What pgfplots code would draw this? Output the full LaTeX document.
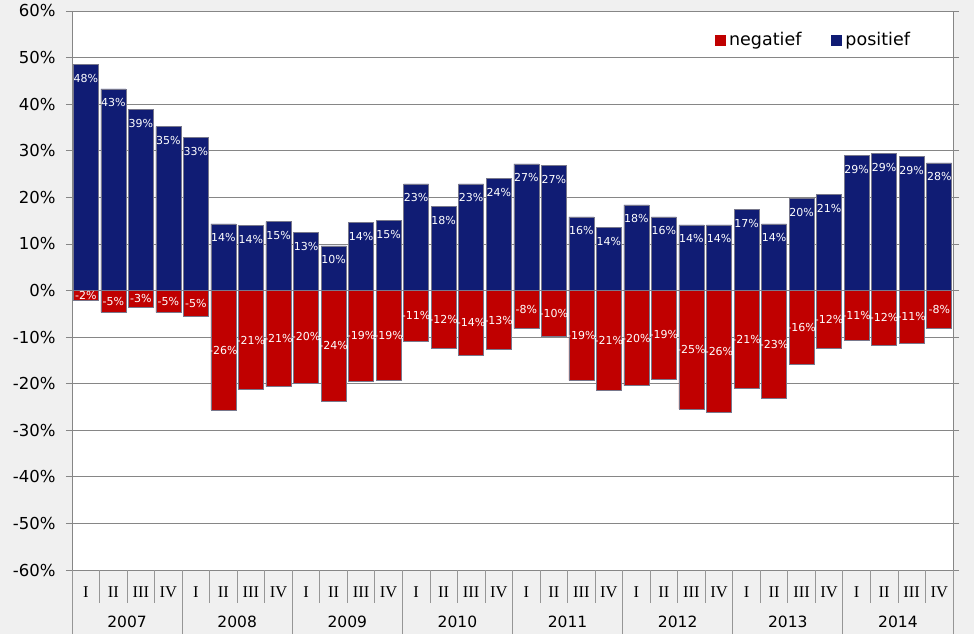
\documentclass[border=0pt]{standalone}
\usepackage{pgfplots}
\pgfplotsset{compat=1.18}
\usepackage{pgfplotstable}
\usepackage{fontspec}
\setmainfont{DejaVu Sans}
\newfontfamily\serifq{Liberation Serif}
\definecolor{bgc}{RGB}{240,240,240}
\definecolor{gridc}{RGB}{134,134,134}
\definecolor{sepc}{RGB}{150,150,150}
\definecolor{posc}{RGB}{16,28,116}
\definecolor{negc}{RGB}{192,0,0}
\definecolor{edgec}{RGB}{120,120,140}

\pgfplotstableread{
x pos neg pl nl
1 48.5 -2.1 48 -2
2 43.3 -4.7 43 -5
3 38.9 -3.5 39 -3
4 35.2 -4.7 35 -5
5 32.8 -5.5 33 -5
6 14.3 -25.6 14 -26
7 13.9 -21.3 14 -21
8 14.8 -20.6 15 -21
9 12.4 -19.9 13 -20
10 9.6 -23.7 10 -24
11 14.6 -19.4 14 -19
12 15.0 -19.2 15 -19
13 22.9 -10.8 23 -11
14 18.0 -12.4 18 -12
15 22.9 -13.9 23 -14
16 24.0 -12.7 24 -13
17 27.2 -8.2 27 -8
18 26.9 -9.9 27 -10
19 15.8 -19.3 16 -19
20 13.5 -21.4 14 -21
21 18.4 -20.4 18 -20
22 15.8 -19.1 16 -19
23 14.1 -25.4 14 -25
24 14.1 -26.2 14 -26
25 17.4 -21.0 17 -21
26 14.3 -23.2 14 -23
27 19.8 -15.8 20 -16
28 20.6 -12.4 21 -12
29 29.0 -10.7 29 -11
30 29.4 -11.8 29 -12
31 28.8 -11.3 29 -11
32 27.4 -8.1 28 -8
}\data

\begin{document}
\begin{tikzpicture}
\fill[bgc] (0,0) rectangle (974pt,634pt);
\useasboundingbox (0,0) rectangle (974pt,634pt);
\begin{axis}[
  at={(72pt,64pt)}, anchor=south west,
  scale only axis, width=881pt, height=559pt,
  axis background/.style={fill=white},
  xmin=0.5, xmax=32.5, ymin=-60, ymax=60,
  clip=false,
  ybar, bar width=25pt,
  axis line style={draw=gridc, line width=0.8pt},
  ymajorgrids, grid style={draw=gridc, line width=0.8pt},
  ytick={-60,-50,...,60},
  yticklabels={-60\%,-50\%,-40\%,-30\%,-20\%,-10\%,0\%,10\%,20\%,30\%,40\%,50\%,60\%},
  yticklabel style={font=\fontsize{16.5}{16.5}\selectfont, xshift=-7pt},
  tick align=outside, major tick length=6pt,
  ytick style={draw=gridc, line width=0.8pt},
  xtick={1,...,32},
  xticklabels={I,II,III,IV,I,II,III,IV,I,II,III,IV,I,II,III,IV,I,II,III,IV,I,II,III,IV,I,II,III,IV,I,II,III,IV},
  xtick style={draw=none},
  xticklabel style={font=\serifq\fontsize{16.5}{16.5}\selectfont, anchor=center, yshift=-16pt},
  legend style={draw=none, fill=none, at={(0.957,0.948)}, anchor=east,
    legend columns=2, font=\fontsize{17.5}{17.5}\selectfont,
    /tikz/every even column/.append style={column sep=28pt},
    /tikz/every odd column/.append style={column sep=1pt}},
  legend image code/.code={\fill[#1,draw=none] (0pt,-5.5pt) rectangle (11pt,5.5pt);},
  /pgf/number format/assume math mode=true,
]
\addplot[fill=negc, draw=edgec, line width=0.5pt, bar shift=0pt,
  point meta=explicit symbolic,
  nodes near coords={\pgfplotspointmeta\%},
  nodes near coords align={anchor=center},
  visualization depends on={\thisrow{neg} \as \nv},
  every node near coord/.append style={font=\fontsize{11}{11}\selectfont, text=white, anchor=center, yshift={-2.329pt*(\nv)}}]
  table[x=x, y=neg, meta=nl] {\data};
\addlegendentry{negatief}
\addplot[fill=posc, draw=edgec, line width=0.5pt, bar shift=0pt,
  point meta=explicit symbolic,
  nodes near coords={\pgfplotspointmeta\%},
  nodes near coords align={anchor=center},
  every node near coord/.append style={font=\fontsize{11}{11}\selectfont, text=white, anchor=center, yshift=-14pt}]
  table[x=x, y=pos, meta=pl] {\data};
\addlegendentry{positief}
\pgfplotsinvokeforeach{1.5,2.5,3.5,5.5,6.5,7.5,9.5,10.5,11.5,13.5,14.5,15.5,17.5,18.5,19.5,21.5,22.5,23.5,25.5,26.5,27.5,29.5,30.5,31.5}{
  \draw[sepc, line width=0.8pt] (axis cs:#1,-60) -- ++(0pt,-33pt);
}
\pgfplotsinvokeforeach{0.5,4.5,8.5,12.5,16.5,20.5,24.5,28.5,32.5}{
  \draw[sepc, line width=0.8pt] (axis cs:#1,-60) -- ++(0pt,-64pt);
}
\pgfplotsinvokeforeach{2007,2008,2009,2010,2011,2012,2013,2014}{
  \node[font=\fontsize{15.5}{15.5}\selectfont] at (axis cs:{(#1-2007)*4+2.5},-60) [yshift=-52pt] {#1};
}
\end{axis}
\end{tikzpicture}
\end{document}
